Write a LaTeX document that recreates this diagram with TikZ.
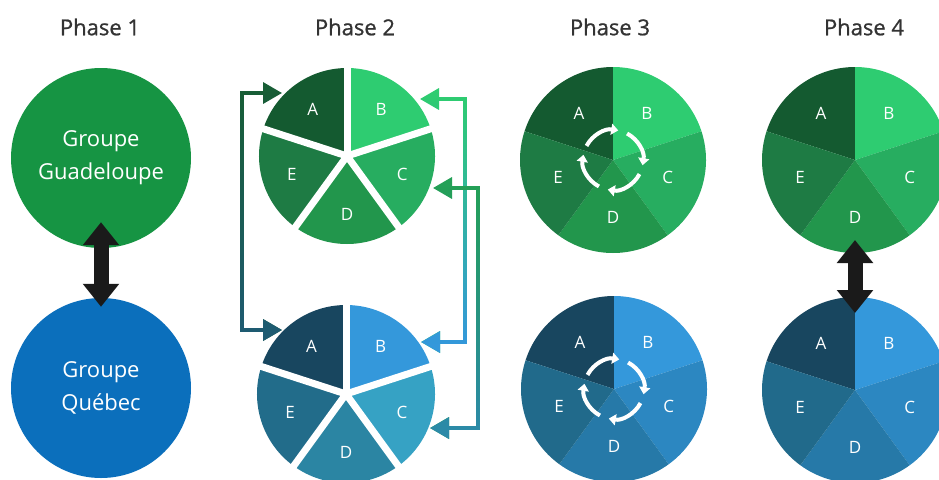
\documentclass[tikz,border=0pt]{standalone}
\usepackage{fontspec}
\setmainfont{Open Sans}
\newfontfamily\titlefamily{Open Sans}[FakeBold=0.9]
\usetikzlibrary{arrows.meta,calc,fadings}

% green pie colours
\definecolor{gA}{HTML}{145A30}
\definecolor{gB}{HTML}{2ECC71}
\definecolor{gC}{HTML}{27AD60}
\definecolor{gD}{HTML}{22964C}
\definecolor{gE}{HTML}{1E7B44}
% blue pie colours (phases 3, 4)
\definecolor{bA}{HTML}{18465F}
\definecolor{bB}{HTML}{3498DB}
\definecolor{bC}{HTML}{2C87C1}
\definecolor{bD}{HTML}{2679A8}
\definecolor{bE}{HTML}{216A8B}
% blue pie colours (phase 2)
\definecolor{qA}{HTML}{18465F}
\definecolor{qB}{HTML}{3498DB}
\definecolor{qC}{HTML}{36A2C4}
\definecolor{qD}{HTML}{2B85A3}
\definecolor{qE}{HTML}{226C8A}
% others
\definecolor{guad}{HTML}{169443}
\definecolor{queb}{HTML}{0B6FBC}
\definecolor{titlegray}{HTML}{333333}
\definecolor{arrowblack}{HTML}{1A1A1A}
\definecolor{lnAtop}{HTML}{185E36}
\definecolor{lnAbot}{HTML}{1F5B72}
\definecolor{lnBtop}{HTML}{2ECC71}
\definecolor{lnBbot}{HTML}{3498DB}
\definecolor{lnCtop}{HTML}{24A057}
\definecolor{lnCbot}{HTML}{2C8AA8}

\tikzset{
  titletext/.style={font=\titlefamily\fontsize{22}{26}\selectfont, text=titlegray},
  groupcircle/.style={circle, minimum size=180pt, inner sep=0pt, text=white,
    align=center, font=\fontsize{22}{33}\selectfont},
  slicelabel/.style={text=white, font=\fontsize{17}{20}\selectfont, inner sep=0pt},
  bigarrow/.style={line width=15pt, arrowblack,
    {Triangle[width=35pt,length=23pt]}-{Triangle[width=35pt,length=23pt]}},
  conn/.style={line width=3.5pt,
    {Triangle[width=21pt,length=19pt]}-{Triangle[width=21pt,length=19pt]}},
  cyc/.style={white, line width=4pt, -{Triangle[width=11pt,length=7pt]}},
}

% #1 name, #2 x, #3 y, #4 radius, #5 colour prefix, #6 label factor
\newcommand{\drawpie}[6]{%
  \coordinate (#1) at (#2,#3);
  \foreach \s/\a/\b in {A/-90/-162, B/-18/-90, C/54/-18, D/126/54, E/-162/-234}{%
    \fill[fill=#5\s] (#1) -- +(\a:#4) arc[start angle=\a, end angle=\b, radius=#4] -- cycle;
  }%
}
\newcommand{\pielabels}[3]{%
  \foreach \s/\m in {A/-126, B/-54, C/18, D/90, E/-198}{%
    \path (#1) ++(\m:{#3*#2}) node[slicelabel] (#1\s) {\s};
  }%
}
\newcommand{\piegaps}[2]{%
  \foreach \a in {-90,-18,54,126,198}{%
    \draw[white, line width=7pt] (#1) -- +(\a:{#2+4});
  }%
}
\newcommand{\cycleicon}[1]{%
  \foreach \t in {-80,10,100,-170}{%
    \draw[cyc] ([shift={({\t-72}:30)}]#1) arc[start angle={\t-72}, end angle=\t, radius=30];
  }%
}
\newcommand{\gradconn}[3]{%
  \draw[conn, #1] #3;
  \draw[conn, #2, path fading=north] #3;
}

\begin{document}
\begin{tikzpicture}[x=1pt, y=-1pt]
\useasboundingbox (0,0) rectangle (939,479);
\clip (0,0) rectangle (939,479);
\fill[white] (0,0) rectangle (939,479);

% titles
\node[titletext] (t1) at (100,27) {Phase 1};
\node[titletext] (t2) at (355,27) {Phase 2};
\node[titletext] (t3) at (610,27) {Phase 3};
\node[titletext] (t4) at (864,27) {Phase 4};

% Phase 1
\node[groupcircle, fill=guad] (gg) at (101,158) {Groupe\\Guadeloupe};
\node[groupcircle, fill=queb] (gq) at (101,388) {Groupe\\Québec};
\draw[bigarrow] ([yshift=26pt]gg.south) -- ([yshift=-9pt]gq.north);

% Phase 2
\drawpie{p2t}{347}{156}{88}{g}{0.66}
\piegaps{p2t}{88}
\pielabels{p2t}{88}{0.66}
\drawpie{p2b}{346}{394}{89}{q}{0.66}
\piegaps{p2b}{89}
\pielabels{p2b}{89}{0.66}

\coordinate (c2tA) at (282,93);
\coordinate (c2bA) at (282,330);
\coordinate (c2tB) at (420,99);
\coordinate (c2bB) at (421,342);
\coordinate (c2tC) at (433,188);
\coordinate (c2bC) at (430,428);

\gradconn{lnAtop}{lnAbot}{(c2tA) -- ++(-40,0) |- (c2bA)}
\gradconn{lnBtop}{lnBbot}{(c2tB) -- ++(45,0) |- (c2bB)}
\gradconn{lnCtop}{lnCbot}{(c2tC) -- ++(45,0) |- (c2bC)}

% Phase 3
\drawpie{p3t}{613}{160}{93}{g}{0.62}
\pielabels{p3t}{93}{0.62}
\cycleicon{p3t}
\drawpie{p3b}{614}{389}{93}{b}{0.62}
\pielabels{p3b}{93}{0.62}
\cycleicon{p3b}

% Phase 4
\drawpie{p4t}{855}{160}{93}{g}{0.62}
\pielabels{p4t}{93}{0.62}
\drawpie{p4b}{855}{390}{93}{b}{0.62}
\pielabels{p4b}{93}{0.62}
\draw[bigarrow] ($(p4t)+(0,80)$) -- ($(p4b)+(0,-77)$);

\end{tikzpicture}
\end{document}
